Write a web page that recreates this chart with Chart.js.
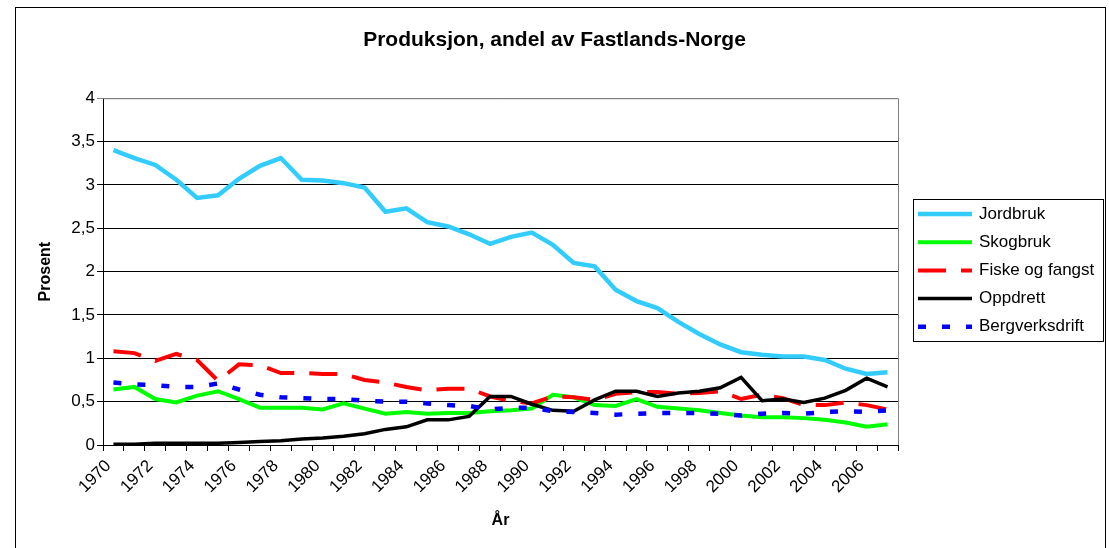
<!DOCTYPE html>
<html>
<head>
<meta charset="utf-8">
<script src="https://cdn.jsdelivr.net/npm/chart.js@4"></script>
<style>body{margin:0;background:#fff}</style>
</head>
<body>
<canvas id="chart" width="1109" height="548"></canvas>
<script>
const years = ['1970', '1971', '1972', '1973', '1974', '1975', '1976', '1977', '1978', '1979',
    '1980', '1981', '1982', '1983', '1984', '1985', '1986', '1987', '1988', '1989',
    '1990', '1991', '1992', '1993', '1994', '1995', '1996', '1997', '1998', '1999',
    '2000', '2001', '2002', '2003', '2004', '2005', '2006', '2007'];

const jordbruk = [3.40, 3.31, 3.23, 3.06, 2.85, 2.88, 3.07, 3.22, 3.31, 3.06,
    3.05, 3.02, 2.97, 2.69, 2.73, 2.57, 2.52, 2.43, 2.32, 2.40,
    2.45, 2.31, 2.10, 2.06, 1.79, 1.66, 1.58, 1.42, 1.28, 1.16,
    1.07, 1.04, 1.02, 1.02, 0.98, 0.88, 0.82, 0.84];
const skogbruk = [0.64, 0.67, 0.53, 0.49, 0.57, 0.62, 0.53, 0.43, 0.43, 0.43,
    0.41, 0.48, 0.42, 0.36, 0.38, 0.36, 0.37, 0.37, 0.39, 0.40,
    0.42, 0.58, 0.55, 0.46, 0.45, 0.53, 0.44, 0.42, 0.40, 0.37,
    0.34, 0.32, 0.32, 0.31, 0.29, 0.26, 0.21, 0.24];
const fiske = [1.08, 1.06, 0.97, 1.05, 0.98, 0.74, 0.93, 0.92, 0.83, 0.83,
    0.82, 0.82, 0.75, 0.72, 0.67, 0.63, 0.65, 0.65, 0.56, 0.51,
    0.48, 0.56, 0.55, 0.52, 0.59, 0.61, 0.61, 0.59, 0.60, 0.62,
    0.53, 0.58, 0.54, 0.46, 0.46, 0.49, 0.46, 0.41];
const oppdrett = [0.01, 0.01, 0.02, 0.02, 0.02, 0.02, 0.03, 0.04, 0.05, 0.07,
    0.08, 0.10, 0.13, 0.18, 0.21, 0.29, 0.29, 0.33, 0.56, 0.56,
    0.47, 0.40, 0.39, 0.52, 0.62, 0.62, 0.56, 0.60, 0.62, 0.66,
    0.78, 0.51, 0.53, 0.49, 0.54, 0.63, 0.77, 0.67];
const bergverk = [0.72, 0.70, 0.69, 0.67, 0.67, 0.71, 0.64, 0.58, 0.55, 0.54,
    0.53, 0.53, 0.51, 0.50, 0.50, 0.48, 0.46, 0.45, 0.41, 0.43,
    0.43, 0.39, 0.38, 0.37, 0.35, 0.36, 0.37, 0.37, 0.37, 0.36,
    0.34, 0.36, 0.37, 0.36, 0.38, 0.39, 0.38, 0.40];

const font = 'Arial, "Liberation Sans", sans-serif';

// frame round the whole chart, grey border of the plot area and the boxed legend
const frameAndLegend = {
    id: 'frameAndLegend',
    afterDraw(chart) {
        const ctx = chart.ctx;
        const a = chart.chartArea;
        ctx.save();
        ctx.lineWidth = 1;
        ctx.strokeStyle = '#808080';
        ctx.beginPath();
        ctx.moveTo(a.left, a.top + 0.5);
        ctx.lineTo(a.right + 0.5, a.top + 0.5);
        ctx.lineTo(a.right + 0.5, a.bottom);
        ctx.stroke();

        ctx.strokeStyle = '#000';
        ctx.strokeRect(15.5, 7.5, 1090, 600);

        ctx.strokeRect(913.5, 199.5, 190, 142);
        ctx.font = '17px ' + font;
        ctx.textBaseline = 'middle';
        chart.data.datasets.forEach((ds, i) => {
            const y = 214 + i * 28.2;
            ctx.beginPath();
            ctx.strokeStyle = ds.borderColor;
            ctx.lineWidth = ds.borderWidth;
            ctx.setLineDash(ds.borderDash || []);
            ctx.moveTo(918, y);
            ctx.lineTo(972, y);
            ctx.stroke();
            ctx.setLineDash([]);
            ctx.fillStyle = '#000';
            ctx.fillText(ds.label, 979, y);
        });
        ctx.restore();
    }
};

const ctx = document.getElementById('chart').getContext('2d');
const chart = new Chart(ctx, {
    type: 'line',
    data: {
        labels: years,
        datasets: [
            { label: 'Jordbruk', data: jordbruk, borderColor: '#33CCFF', borderWidth: 4.5, order: 5 },
            { label: 'Skogbruk', data: skogbruk, borderColor: '#00FF00', borderWidth: 4, order: 4 },
            { label: 'Fiske og fangst', data: fiske, borderColor: '#FF0000', borderWidth: 4, borderDash: [28, 15], order: 3 },
            { label: 'Oppdrett', data: oppdrett, borderColor: '#000000', borderWidth: 3.5, order: 2 },
            { label: 'Bergverksdrift', data: bergverk, borderColor: '#0000FF', borderWidth: 4.5, borderDash: [8, 16], order: 1 }
        ]
    },
    options: {
        responsive: false,
        animation: false,
        elements: {
            point: { radius: 0 },
            line: { tension: 0, fill: false, borderCapStyle: 'butt' }
        },
        layout: { padding: 0 },
        plugins: {
            legend: { display: false },
            tooltip: { enabled: false },
            title: {
                display: true,
                text: 'Produksjon, andel av Fastlands-Norge',
                color: '#000',
                font: { family: font, size: 21, weight: 'bold' },
                padding: { top: 28, bottom: 45 }
            }
        },
        scales: {
            x: {
                offset: true,
                grid: { offset: true, drawOnChartArea: false, drawTicks: true, tickLength: 6, color: '#000' },
                border: { color: '#000' },
                ticks: {
                    autoSkip: false,
                    minRotation: 45,
                    maxRotation: 45,
                    color: '#000',
                    padding: 5,
                    labelOffset: -5,
                    font: { family: font, size: 17 },
                    callback: (v, i) => (i % 2 === 0 ? years[i] : '')
                },
                title: {
                    display: true,
                    text: 'År',
                    color: '#000',
                    font: { family: font, size: 16, weight: 'bold' },
                    padding: { top: 0, bottom: 18 }
                },
                afterFit(s) { s.height = 103; }
            },
            y: {
                min: 0,
                max: 4,
                grid: {
                    color: c => (c.tick && c.tick.value === 4 ? '#808080' : '#000'),
                    tickLength: 6
                },
                border: { color: '#000' },
                ticks: {
                    stepSize: 0.5,
                    color: '#000',
                    padding: 2,
                    font: { family: font, size: 17 },
                    callback: v => String(v).replace('.', ',')
                },
                title: {
                    display: true,
                    text: 'Prosent',
                    color: '#000',
                    font: { family: font, size: 16, weight: 'bold' },
                    padding: { top: 36, bottom: 0 }
                },
                afterFit(s) { s.width = 103; }
            },
            legendSpace: {
                position: 'right',
                display: true,
                grid: { display: false },
                border: { display: false },
                ticks: { display: false },
                afterFit(s) { s.width = 211; }
            }
        }
    },
    plugins: [frameAndLegend]
});
</script>
</body>
</html>
